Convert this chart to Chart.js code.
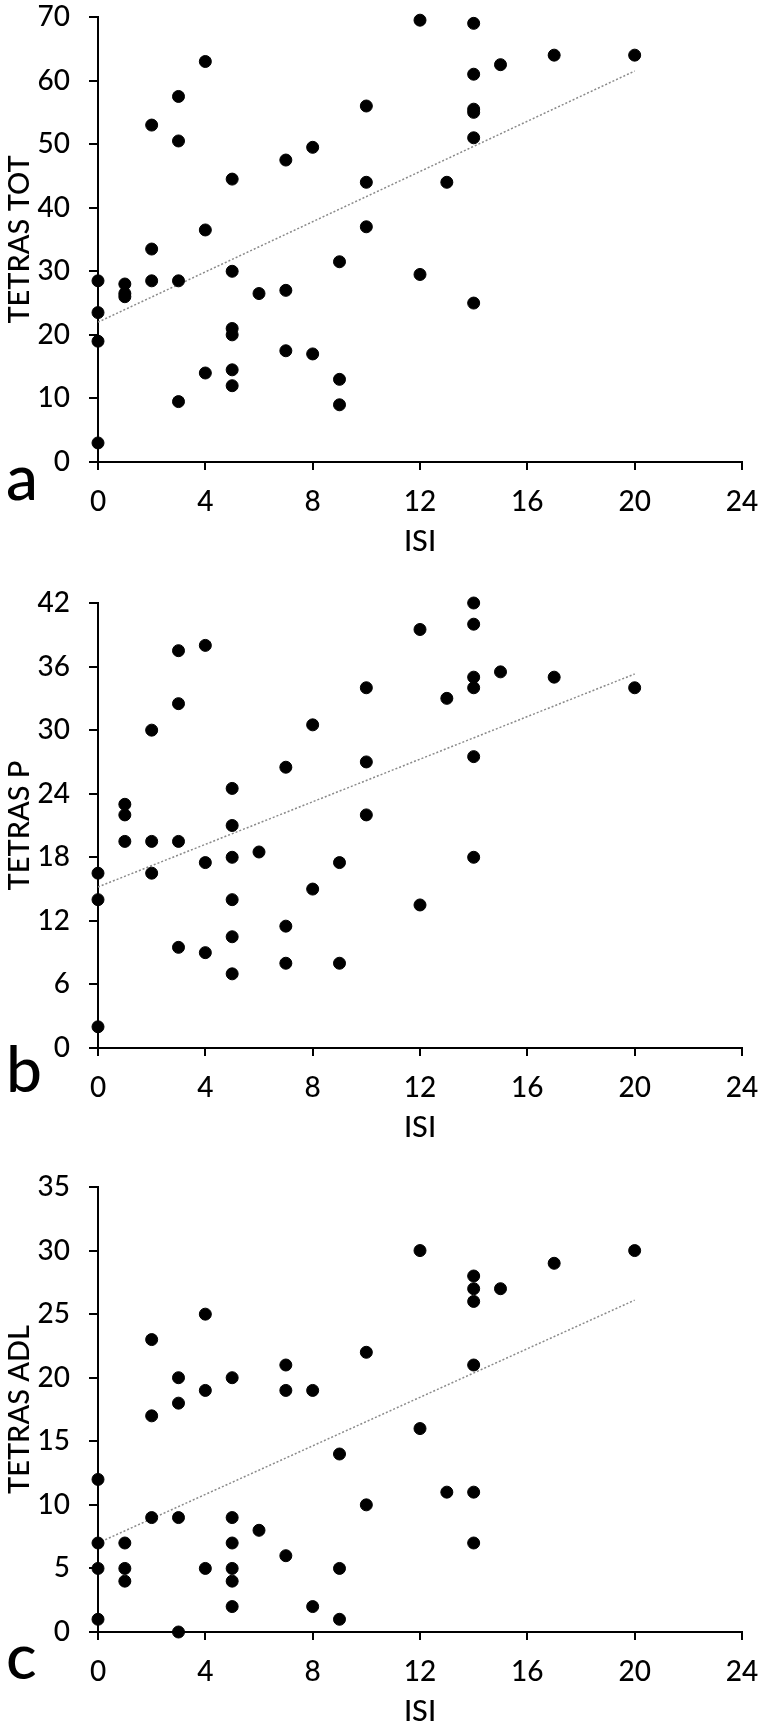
<!DOCTYPE html>
<html lang="en">
<head>
<meta charset="UTF-8">
<title>TETRAS vs ISI</title>
<script src="https://cdn.jsdelivr.net/npm/chart.js"></script>
<style>
  body { margin: 0; background: #fff; }
  .wrap { position: relative; width: 764px; height: 1732px; }
  canvas { position: absolute; left: 0; }
</style>
</head>
<body>
<div class="wrap">
  <canvas id="chartA" width="764" height="562" style="top:0px"></canvas>
  <canvas id="chartB" width="764" height="562" style="top:586px"></canvas>
  <canvas id="chartC" width="764" height="562" style="top:1170px"></canvas>
</div>
<script>
// Panel a: TETRAS TOT
const isiA = [0,0,0,0, 1,1,1, 2,2,2, 3,3,3,3, 4,4,4, 5,5,5,5,5,5, 6, 7,7,7, 8,8, 9,9,9, 10,10,10, 12,12, 13, 14,14,14,14,14,14, 15, 17, 20];
const totA = [28.5,23.5,19,3, 28,26.5,26, 53,33.5,28.5, 57.5,50.5,28.5,9.5, 63,36.5,14, 44.5,30,21,20,14.5,12, 26.5, 47.5,27,17.5, 49.5,17, 31.5,13,9, 56,44,37, 69.5,29.5, 44, 69,61,55.5,55,51,25, 62.5, 64, 64];
const trendA = [[0, 22], [20, 61.5]];

// Panel b: TETRAS P
const isiB = [0,0,0, 1,1,1, 2,2,2, 3,3,3,3, 4,4,4, 5,5,5,5,5,5, 6, 7,7,7, 8,8, 9,9, 10,10,10, 12,12, 13, 14,14,14,14,14,14, 15, 17, 20];
const pB = [16.5,14,2, 23,22,19.5, 30,19.5,16.5, 37.5,32.5,19.5,9.5, 38,17.5,9, 24.5,21,18,14,10.5,7, 18.5, 26.5,11.5,8, 30.5,15, 17.5,8, 34,27,22, 39.5,13.5, 33, 42,40,35,34,27.5,18, 35.5, 35, 34];
const trendB = [[0, 15.2], [20, 35.3]];

// Panel c: TETRAS ADL
const isiC = [0,0,0,0, 1,1,1, 2,2,2, 3,3,3,3, 4,4,4, 5,5,5,5,5,5, 6, 7,7,7, 8,8, 9,9,9, 10,10, 12,12, 13, 14,14,14,14,14,14, 15, 17, 20];
const adlC = [12,7,5,1, 7,5,4, 23,17,9, 20,18,9,0, 25,19,5, 20,9,7,5,4,2, 8, 21,19,6, 19,2, 14,5,1, 22,10, 30,16, 11, 28,27,26,21,11,7, 27, 29, 30];
const trendC = [[0, 7.0], [20, 26.1]];

// tick labels
const isiTicks = [0, 4, 8, 12, 16, 20, 24];
const ticksA = [0, 10, 20, 30, 40, 50, 60, 70];
const ticksB = [0, 6, 12, 18, 24, 30, 36, 42];
const ticksC = [0, 5, 10, 15, 20, 25, 30, 35];

Chart.defaults.font.family = 'Lato, "Open Sans", sans-serif';
Chart.defaults.font.weight = '500';
Chart.defaults.color = '#000';

function makePanel(id, xs, ys, trend, yTicks, yTitle, letter, letterY) {
    const points = xs.map((x, i) => ({ x: x, y: ys[i] }));
    const line = trend.map(p => ({ x: p[0], y: p[1] }));

    // big panel letter (a, b, c) at bottom left
    const letterPlugin = {
        id: 'panelLetter',
        afterDraw(chart) {
            const ctx = chart.ctx;
            ctx.save();
            ctx.font = '500 64px Lato, sans-serif';
            ctx.fillStyle = '#000';
            ctx.textBaseline = 'alphabetic';
            ctx.fillText(letter, 6, letterY);
            ctx.restore();
        }
    };

    return new Chart(document.getElementById(id), {
        type: 'scatter',
        data: {
            datasets: [{
                data: points,
                backgroundColor: '#000',
                borderColor: '#000',
                pointRadius: 6,
                pointHoverRadius: 6,
                clip: false
            }, {
                data: line,
                showLine: true,
                borderColor: '#8a8a8a',
                borderWidth: 1.5,
                borderDash: [2, 2],
                pointRadius: 0
            }]
        },
        options: {
            responsive: false,
            animation: false,
            layout: { padding: { top: 17, right: 22, left: 0, bottom: 0 } },
            plugins: { legend: { display: false }, tooltip: { enabled: false } },
            scales: {
                x: {
                    type: 'linear',
                    min: 0,
                    max: 24,
                    afterBuildTicks: s => { s.ticks = isiTicks.map(v => ({ value: v })); },
                    afterFit: s => { s.height = 100; s.paddingLeft = 0; s.paddingRight = 0; },
                    grid: { drawOnChartArea: false, drawTicks: true, tickLength: 8, color: '#000', lineWidth: 2 },
                    border: { display: true, color: '#000', width: 2 },
                    ticks: { font: { size: 28 }, padding: 15, maxRotation: 0 },
                    title: { display: true, text: 'ISI', font: { size: 29 }, padding: { top: 0, bottom: 3 } }
                },
                y: {
                    min: 0,
                    max: yTicks[yTicks.length - 1],
                    afterBuildTicks: s => { s.ticks = yTicks.map(v => ({ value: v })); },
                    afterFit: s => { s.width = 98; s.paddingTop = 0; s.paddingBottom = 0; },
                    grid: { drawOnChartArea: false, drawTicks: true, tickLength: 9, color: '#000', lineWidth: 2 },
                    border: { display: true, color: '#000', width: 2 },
                    ticks: { font: { size: 28 }, padding: 19 },
                    title: { display: true, text: yTitle, font: { size: 29 }, padding: { top: 2, bottom: 0 } }
                }
            }
        },
        plugins: [letterPlugin]
    });
}

makePanel('chartA', isiA, totA, trendA, ticksA, 'TETRAS TOT', 'a', 500);
makePanel('chartB', isiB, pB, trendB, ticksB, 'TETRAS P', 'b', 506);
makePanel('chartC', isiC, adlC, trendC, ticksC, 'TETRAS ADL', 'c', 509);
</script>
</body>
</html>
